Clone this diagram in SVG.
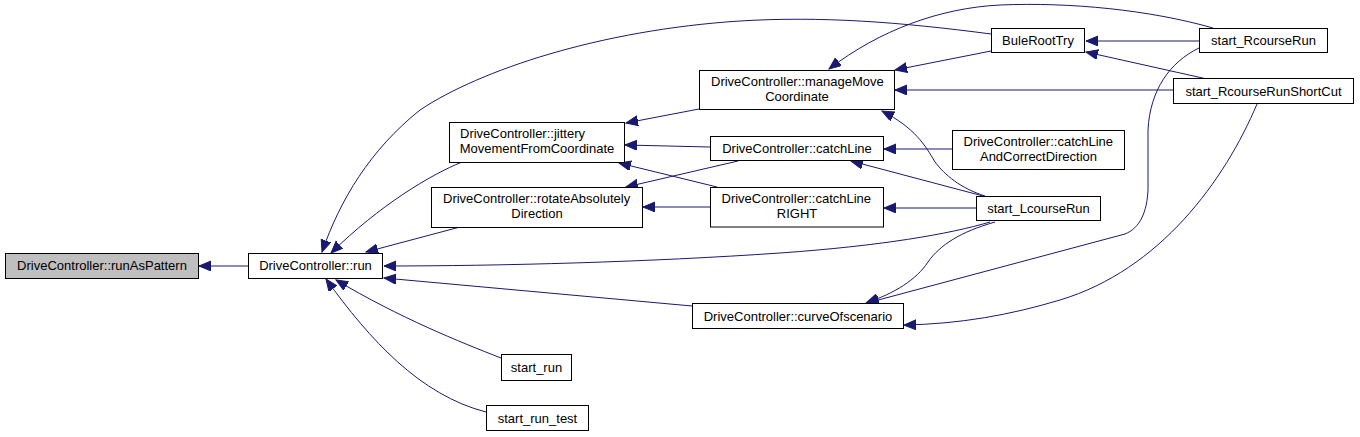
<svg xmlns="http://www.w3.org/2000/svg" width="1360" height="437" viewBox="0 0 1360 437">
<style>
.n rect{fill:#fff;stroke:#000;stroke-width:1}
.n text{font-family:"Liberation Sans",Arial,sans-serif;font-size:13px;fill:#000}
.c{text-anchor:middle}
#edges path{fill:none;stroke:#191970;stroke-width:1;marker-end:url(#ah)}
</style>
<defs>
<marker id="ah" markerWidth="13" markerHeight="11" refX="12" refY="5" orient="auto" markerUnits="userSpaceOnUse"><path d="M0,0 L12,5 L0,10 z" fill="#191970" stroke="#191970" stroke-width="1"/></marker>
</defs>
<rect width="1360" height="437" fill="#fff"/>
<g id="edges">
<path d="M248,266 L199,266"/>
<path d="M462,162 C430,175 380,205 331,253"/>
<path d="M460,227 L366,252"/>
<path d="M991,34 C900,22 820,16 740,21 C600,30 480,70 420,110 C370,150 340,200 322,252"/>
<path d="M990,222 C950,234 880,246 780,253 C650,262 500,266 384,266"/>
<path d="M692,306 L384,278"/>
<path d="M501,358 C460,342 400,318 336,280"/>
<path d="M486,412 C420,395 370,340 326,279"/>
<path d="M699,109 L626,123"/>
<path d="M710,147 L625,145"/>
<path d="M717,187 L619,163"/>
<path d="M738,161 L626,187"/>
<path d="M710,207 L643,207"/>
<path d="M991,51 L895,70"/>
<path d="M1213,28 C1150,10 1070,2 1000,5 C940,8 880,30 829,69"/>
<path d="M1173,90 L895,90"/>
<path d="M985,196 C960,188 945,175 935,162 C925,145 915,128 882,111"/>
<path d="M1199,41 L1086,41"/>
<path d="M1207,79 L1086,52"/>
<path d="M952,149 L884,149"/>
<path d="M983,196 L851,161"/>
<path d="M976,208 L884,208"/>
<path d="M995,222 C960,232 940,245 928,262 C916,280 895,293 866,303"/>
<path d="M1199,48 C1170,62 1150,90 1148,130 L1148,190 C1147,212 1140,228 1125,234 L867,303"/>
<path d="M1257,104 C1225,180 1160,270 1060,300 C1010,315 960,324 904,325"/>
</g>
<g id="runAsPattern" class="n"><rect x="5.5" y="253.5" width="193" height="25" style="fill:#bfbfbf"/><text class="c" x="102" y="270">DriveController::runAsPattern</text></g>
<g id="run" class="n"><rect x="248.5" y="253.5" width="134" height="25"/><text class="c" x="315.5" y="270">DriveController::run</text></g>
<g id="jittery" class="n"><rect x="449.5" y="122.5" width="175" height="40"/><text x="460" y="137.5">DriveController::jittery</text><text class="c" x="537" y="152.5">MovementFromCoordinate</text></g>
<g id="rotate" class="n"><rect x="431.5" y="187.5" width="211" height="40"/><text x="443" y="202.5">DriveController::rotateAbsolutely</text><text class="c" x="537" y="217.5">Direction</text></g>
<g id="manageMove" class="n"><rect x="699.5" y="70.5" width="195" height="39"/><text x="711" y="85.5">DriveController::manageMove</text><text class="c" x="797" y="100.5">Coordinate</text></g>
<g id="catchLine" class="n"><rect x="710.5" y="136.5" width="173" height="24"/><text class="c" x="797" y="153">DriveController::catchLine</text></g>
<g id="catchLineRIGHT" class="n"><rect x="710.5" y="187.5" width="173" height="39.5"/><text x="721.5" y="202.5">DriveController::catchLine</text><text class="c" x="797" y="217.5">RIGHT</text></g>
<g id="BuleRootTry" class="n"><rect x="991.5" y="28.5" width="93" height="24"/><text class="c" x="1038" y="45">BuleRootTry</text></g>
<g id="start_RcourseRun" class="n"><rect x="1199.5" y="28.5" width="128" height="24"/><text class="c" x="1263.5" y="45">start_RcourseRun</text></g>
<g id="start_RcourseRunShortCut" class="n"><rect x="1173.5" y="78.5" width="180" height="25"/><text class="c" x="1263.5" y="95.5">start_RcourseRunShortCut</text></g>
<g id="catchLineAndCorrectDirection" class="n"><rect x="952.5" y="130.5" width="172" height="39"/><text x="963.5" y="145.5">DriveController::catchLine</text><text class="c" x="1038.5" y="160.5">AndCorrectDirection</text></g>
<g id="start_LcourseRun" class="n"><rect x="976.5" y="196.5" width="124" height="24"/><text class="c" x="1038.5" y="213">start_LcourseRun</text></g>
<g id="curveOfscenario" class="n"><rect x="692.5" y="303.5" width="211" height="25"/><text class="c" x="798" y="320.5">DriveController::curveOfscenario</text></g>
<g id="start_run" class="n"><rect x="501.5" y="354.5" width="70" height="26"/><text class="c" x="536.5" y="372">start_run</text></g>
<g id="start_run_test" class="n"><rect x="486.5" y="405.5" width="102" height="25"/><text class="c" x="537.5" y="422.5">start_run_test</text></g>
</svg>
